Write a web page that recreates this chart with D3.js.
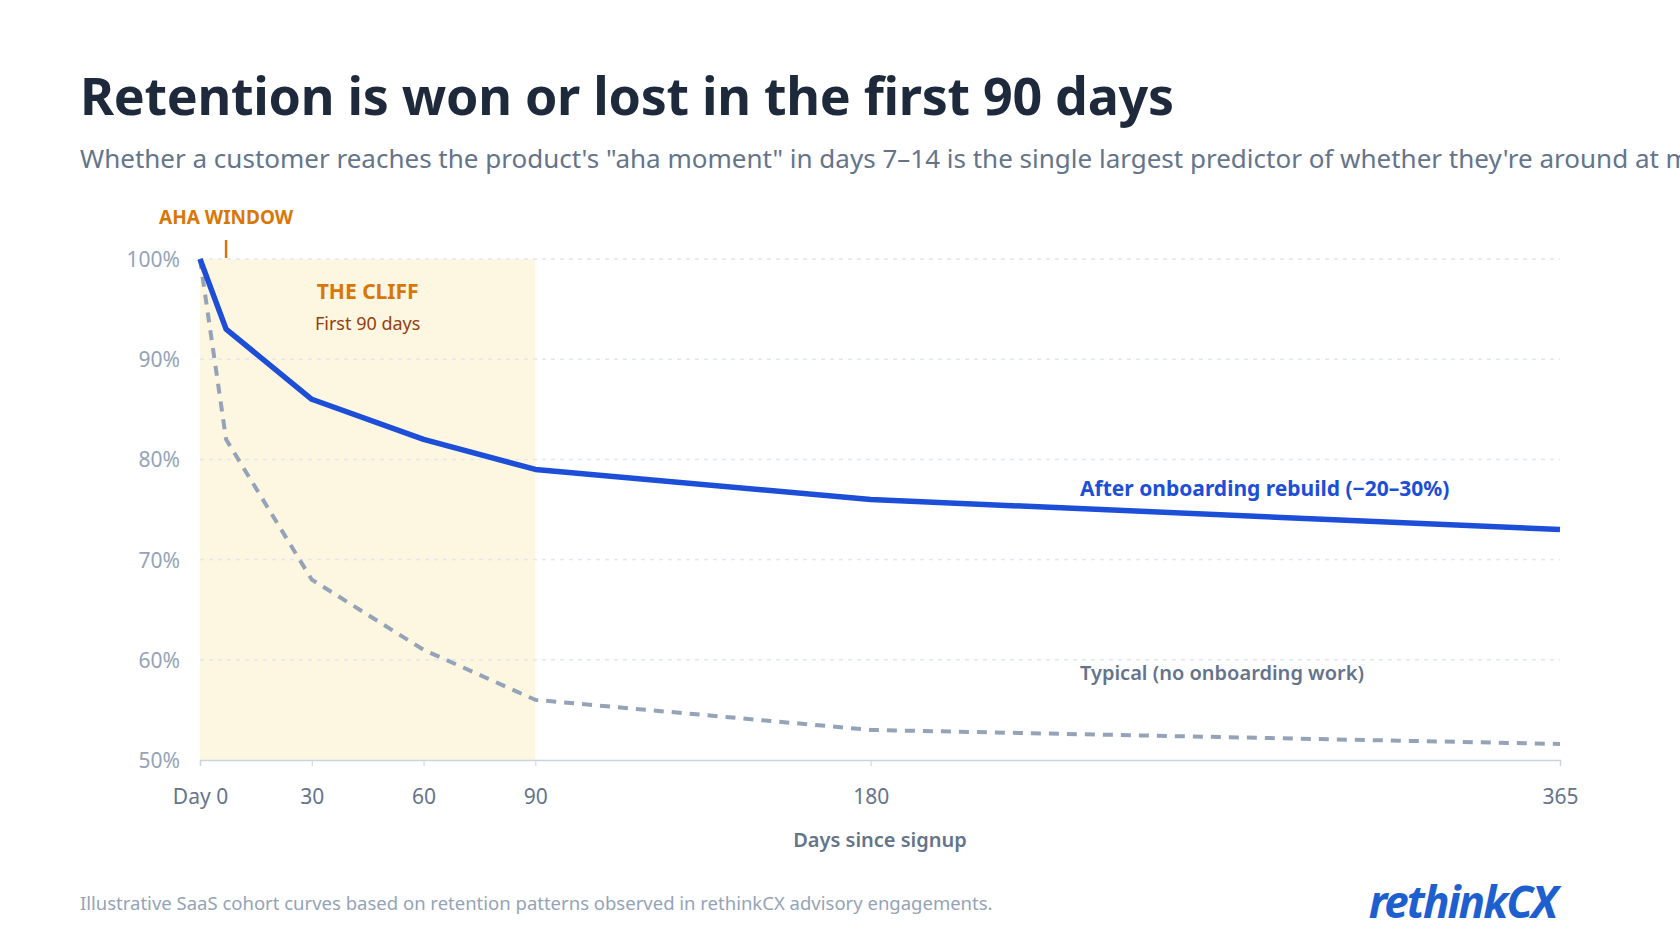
<!DOCTYPE html>
<html><head><meta charset="utf-8">
<script src="https://cdn.jsdelivr.net/npm/d3@7"></script>
<style>body{margin:0;background:#fff;overflow:hidden}svg{display:block}</style>
</head><body>
<svg id="c" width="1680" height="940"></svg>
<script>
const days = [0, 7, 30, 60, 90, 180, 365];
const rebuilt = [100, 93, 86, 82, 79, 76, 73];
const typical = [100, 82, 68, 61, 56, 53, 51.6];
const yTicks = [50, 60, 70, 80, 90, 100];
const xTicks = [0, 30, 60, 90, 180, 365];
const xTickLabels = ["Day 0", "30", "60", "90", "180", "365"];

const F = "'Noto Sans', 'Open Sans', sans-serif";
const svg = d3.select("#c");
const x = d3.scaleLinear().domain([0, 365]).range([200, 1560]);
const y = d3.scaleLinear().domain([50, 100]).range([760, 259]);

svg.append("text").attr("x", 80).attr("y", 115).attr("font-family", F).attr("font-weight", 700)
  .attr("font-size", 52).attr("fill", "#1e293b").attr("letter-spacing", -0.3)
  .text("Retention is won or lost in the first 90 days");
svg.append("text").attr("x", 80).attr("y", 168).attr("font-family", F).attr("font-size", 26)
  .attr("fill", "#64748b")
  .text("Whether a customer reaches the product's \"aha moment\" in days 7–14 is the single largest predictor of whether they're around at month 12.");

svg.append("rect").attr("x", x(0)).attr("y", y(100)).attr("width", x(90) - x(0))
  .attr("height", y(50) - y(100)).attr("fill", "#fdf6e1");

svg.append("g").selectAll("line").data(yTicks.filter(d => d > 50)).join("line")
  .attr("x1", x(0)).attr("x2", x(365)).attr("y1", d => y(d)).attr("y2", d => y(d))
  .attr("stroke", "#e2e8f0").attr("stroke-width", 1.5).attr("stroke-dasharray", "4,5");

svg.append("g").selectAll("text").data(yTicks).join("text")
  .attr("x", 180).attr("y", d => y(d) + 8).attr("text-anchor", "end")
  .attr("font-family", F).attr("font-size", 21).attr("fill", "#94a3b8").text(d => d + "%");

const xa = d3.axisBottom(x).tickValues(xTicks).tickSize(6).tickFormat((d, i) => xTickLabels[i]);
const g = svg.append("g").attr("transform", `translate(0,${y(50)})`).call(xa);
g.select(".domain").attr("stroke", "#cbd5e1").attr("stroke-width", 1.5);
g.selectAll(".tick line").attr("stroke", "#cbd5e1");
g.selectAll(".tick text").attr("font-family", F).attr("font-size", 21).attr("fill", "#64748b").attr("dy", 0).attr("y", 44);
svg.append("text").attr("x", 880).attr("y", 847).attr("text-anchor", "middle").attr("font-family", F)
  .attr("font-weight", 600).attr("font-size", 20).attr("fill", "#64748b").text("Days since signup");

const line = d3.line().x((d, i) => x(days[i])).y(d => y(d));
svg.append("path").datum(typical).attr("d", line).attr("fill", "none").attr("stroke", "#94a3b8")
  .attr("stroke-width", 4).attr("stroke-dasharray", "10,8");
svg.append("path").datum(rebuilt).attr("d", line).attr("fill", "none").attr("stroke", "#1d4ed8")
  .attr("stroke-width", 5.5).attr("stroke-linejoin", "round");

svg.append("text").attr("x", x(7)).attr("y", 224).attr("text-anchor", "middle").attr("font-family", F)
  .attr("font-weight", 700).attr("font-size", 19).attr("fill", "#d97706").text("AHA WINDOW");
svg.append("line").attr("x1", x(7)).attr("x2", x(7)).attr("y1", 240).attr("y2", 258)
  .attr("stroke", "#d97706").attr("stroke-width", 2.5);
svg.append("text").attr("x", x(45)).attr("y", 299).attr("text-anchor", "middle").attr("font-family", F)
  .attr("font-weight", 700).attr("font-size", 21).attr("fill", "#d97706").text("THE CLIFF");
svg.append("text").attr("x", x(45)).attr("y", 330).attr("text-anchor", "middle").attr("font-family", F)
  .attr("font-size", 18).attr("fill", "#92400e").text("First 90 days");
svg.append("text").attr("x", 1080).attr("y", 496).attr("font-family", F).attr("font-weight", 700)
  .attr("font-size", 21).attr("fill", "#1d4ed8").text("After onboarding rebuild (−20–30%)");
svg.append("text").attr("x", 1080).attr("y", 680).attr("font-family", F).attr("font-weight", 600)
  .attr("font-size", 20).attr("fill", "#64748b").text("Typical (no onboarding work)");

svg.append("text").attr("x", 80).attr("y", 910).attr("font-family", F).attr("font-size", 18.5)
  .attr("fill", "#94a3b8").text("Illustrative SaaS cohort curves based on retention patterns observed in rethinkCX advisory engagements.");
svg.append("text").attr("x", 1556).attr("y", 918).attr("text-anchor", "end").attr("font-family", F)
  .attr("font-weight", 700).attr("font-style", "italic").attr("font-size", 44).attr("letter-spacing", -2)
  .attr("fill", "#1e5fd0").text("rethinkCX");
</script>
</body></html>
